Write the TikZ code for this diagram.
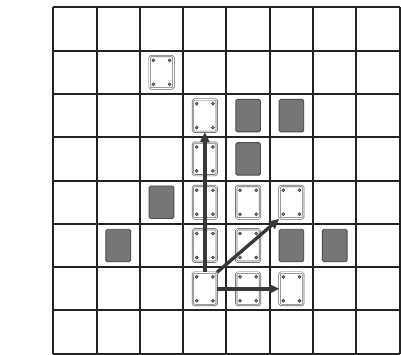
\documentclass[tikz,border=0pt]{standalone}
\usepackage{tikz}
\usetikzlibrary{arrows.meta,positioning,calc}
\usepackage{xcolor}
\definecolor{BoardInk}{RGB}{35,35,35}
\definecolor{StoneGray}{RGB}{118,118,118}

\begin{document}
\begin{tikzpicture}[
  piece/.style={rectangle,rounded corners=1pt,draw=black!60,double=white,double distance=0.5pt,line width=0.45pt,fill=white,minimum width=0.55cm,minimum height=0.75cm,inner sep=0pt,
    path picture={\foreach \c/\dx/\dy in {north west/1/-1,north east/-1/-1,south west/1/1,south east/-1/1}
      \filldraw[draw=black!80,fill=black!45,line width=0.35pt] ([shift={(\dx*2.5pt-1pt,\dy*2.8pt-1pt)}]path picture bounding box.\c) rectangle +(2pt,2pt);}},
  block/.style={rectangle,rounded corners=1pt,draw=black!70,fill=StoneGray,line width=0.6pt,minimum width=0.57cm,minimum height=0.75cm,inner sep=0pt},
  arrow/.style={-{Triangle[length=6.5pt,width=6pt]},line width=2.2pt,black!78}
]
  \useasboundingbox (-1.23,-0.01) rectangle (8.03,8.17);
  \draw[line width=1.3pt,BoardInk] (0,0) grid (8,8);
  % white pieces
  \node[piece] (c2r6) at (2.5,6.5) {};
  \node[piece] (c3r5) at (3.5,5.5) {};
  \node[piece] (c3r4) at (3.5,4.5) {};
  \node[piece] (c3r3) at (3.5,3.5) {};
  \node[piece] (c4r3) at (4.5,3.5) {};
  \node[piece] (c5r3) at (5.5,3.5) {};
  \node[piece] (c3r2) at (3.5,2.5) {};
  \node[piece] (c4r2) at (4.5,2.5) {};
  \node[piece] (c3r1) at (3.5,1.5) {};
  \node[piece] (c4r1) at (4.5,1.5) {};
  \node[piece] (c5r1) at (5.5,1.5) {};
  % gray blocks
  \node[block] (g4r5) at (4.5,5.5) {};
  \node[block] (g5r5) at (5.5,5.5) {};
  \node[block] (g4r4) at (4.5,4.5) {};
  \node[block] (g2r3) at (2.5,3.5) {};
  \node[block] (g1r2) at (1.5,2.5) {};
  \node[block] (g5r2) at (5.5,2.5) {};
  \node[block] (g6r2) at (6.5,2.5) {};
  % moves
  \draw[arrow] (c3r1.north) -- (c3r5.south);
  \draw[arrow] (c3r1.north east) -- (c5r3.south west);
  \draw[arrow] (c3r1.east) -- (c5r1.west);
\end{tikzpicture}
\end{document}
